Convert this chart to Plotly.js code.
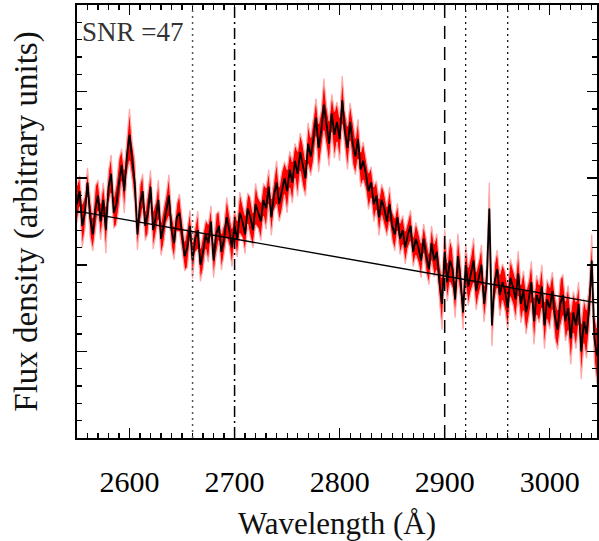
<!DOCTYPE html>
<html>
<head>
<meta charset="utf-8">
<script src="https://cdn.plot.ly/plotly-3.0.1.min.js"></script>
<style>html,body{margin:0;padding:0;background:#fff;}#chart{width:599px;height:541px;}</style>
</head>
<body>
<div id="chart"></div>
<script>
// Wavelength grid (Å)
const wavelength = [
2550,2552.5,2555,2557.5,2560,2562.5,2565,2567.5,2570,2572.5,
2575,2577.5,2580,2582.5,2585,2587.5,2590,2592.5,2595,2597.5,
2600,2602.5,2605,2607.5,2610,2612.5,2615,2617.5,2620,2622.5,
2625,2627.5,2630,2632.5,2635,2637.5,2640,2642.5,2645,2647.5,
2650,2652.5,2655,2657.5,2660,2662.5,2665,2667.5,2670,2672.5,
2675,2677.5,2680,2682.5,2685,2687.5,2690,2692.5,2695,2697.5,
2700,2702.5,2705,2707.5,2710,2712.5,2715,2717.5,2720,2722.5,
2725,2727.5,2730,2732.5,2735,2737.5,2740,2742.5,2745,2747.5,
2750,2752.5,2755,2757.5,2760,2762.5,2765,2767.5,2770,2772.5,
2775,2777.5,2780,2782.5,2785,2787.5,2790,2792.5,2795,2797.5,
2800,2802.5,2805,2807.5,2810,2812.5,2815,2817.5,2820,2822.5,
2825,2827.5,2830,2832.5,2835,2837.5,2840,2842.5,2845,2847.5,
2850,2852.5,2855,2857.5,2860,2862.5,2865,2867.5,2870,2872.5,
2875,2877.5,2880,2882.5,2885,2887.5,2890,2892.5,2895,2897.5,
2900,2902.5,2905,2907.5,2910,2912.5,2915,2917.5,2920,2922.5,
2925,2927.5,2930,2932.5,2935,2937.5,2940,2942.5,2945,2947.5,
2950,2952.5,2955,2957.5,2960,2962.5,2965,2967.5,2970,2972.5,
2975,2977.5,2980,2982.5,2985,2987.5,2990,2992.5,2995,2997.5,
3000,3002.5,3005,3007.5,3010,3012.5,3015,3017.5,3020,3022.5,
3025,3027.5,3030,3032.5,3035,3037.5,3040,3042.5,3045
];
// Flux density (arbitrary units)
const flux = [
2.70,2.85,2.45,2.60,2.95,2.55,2.35,2.65,2.80,2.50,
2.75,2.40,2.90,3.05,2.60,2.70,2.95,3.15,2.85,3.25,
3.50,3.20,2.95,2.35,2.70,2.85,2.45,2.60,2.90,2.40,
2.55,2.75,2.30,2.45,2.65,2.80,2.40,2.25,2.55,2.60,
2.35,2.10,2.20,2.45,2.05,2.30,2.40,2.00,2.15,2.35,
2.25,2.50,2.05,2.35,2.45,2.15,2.30,2.55,2.40,2.20,
2.45,2.30,2.60,2.50,2.35,2.65,2.55,2.40,2.70,2.60,
2.50,2.75,2.65,2.90,2.55,2.80,2.95,2.70,2.85,3.00,
2.85,3.10,2.95,3.20,3.05,3.30,3.15,3.00,3.40,3.25,
3.45,3.70,3.35,3.55,3.85,3.60,3.40,3.75,3.50,3.65,
3.45,3.90,3.55,3.35,3.65,3.40,3.25,3.45,3.10,3.20,
3.05,2.85,2.95,2.70,2.80,2.55,2.75,2.65,2.50,2.70,
2.45,2.35,2.55,2.30,2.40,2.20,2.35,2.45,2.15,2.30,
2.20,2.05,2.30,2.10,1.95,2.25,2.05,2.15,1.80,1.55,
2.15,1.80,2.05,1.95,1.60,2.10,1.85,1.45,2.00,1.75,
1.90,2.05,1.70,1.85,2.00,1.55,1.80,2.65,1.30,1.80,
1.95,1.65,1.80,1.70,1.50,1.85,1.75,1.60,1.90,1.55,
1.70,1.45,1.60,1.80,1.35,1.65,1.55,1.75,1.30,1.60,
1.50,1.70,1.40,1.25,1.55,1.65,1.35,1.50,1.15,1.45,
1.30,1.55,1.00,1.35,1.20,1.50,2.05,1.15,0.95
];
// 1-sigma flux error
const fluxErr = [
0.22,0.18,0.25,0.20,0.17,0.23,0.19,0.26,0.18,0.21,
0.20,0.27,0.19,0.22,0.18,0.24,0.28,0.19,0.25,0.21,
0.30,0.22,0.26,0.18,0.23,0.20,0.17,0.24,0.19,0.22,
0.18,0.23,0.19,0.21,0.17,0.24,0.20,0.19,0.16,0.22,
0.19,0.17,0.23,0.18,0.21,0.16,0.22,0.19,0.20,0.17,
0.22,0.18,0.20,0.24,0.17,0.21,0.18,0.23,0.19,0.22,
0.18,0.21,0.24,0.19,0.22,0.18,0.23,0.20,0.24,0.18,
0.22,0.19,0.24,0.20,0.21,0.18,0.25,0.20,0.23,0.19,
0.25,0.21,0.24,0.20,0.26,0.22,0.25,0.21,0.24,0.22,
0.26,0.22,0.28,0.23,0.30,0.24,0.26,0.22,0.27,0.23,
0.25,0.28,0.23,0.25,0.22,0.24,0.21,0.23,0.20,0.22,
0.19,0.21,0.18,0.20,0.17,0.21,0.18,0.19,0.17,0.20,
0.17,0.19,0.16,0.18,0.17,0.19,0.16,0.18,0.17,0.19,
0.18,0.20,0.17,0.19,0.18,0.20,0.19,0.21,0.24,0.30,
0.26,0.22,0.25,0.23,0.21,0.26,0.22,0.20,0.24,0.22,
0.21,0.26,0.22,0.20,0.23,0.21,0.20,0.30,0.24,0.21,
0.22,0.24,0.21,0.23,0.25,0.22,0.21,0.24,0.26,0.22,
0.23,0.25,0.22,0.24,0.27,0.23,0.22,0.25,0.27,0.23,
0.24,0.22,0.25,0.23,0.28,0.24,0.23,0.26,0.30,0.24,
0.27,0.25,0.32,0.26,0.28,0.25,0.30,0.27,0.32
];
// Power-law continuum fit (end points)
const contWave = [2550, 3045];
const contFlux = [2.62, 1.56];
// Marked wavelengths
const dottedGray = [2660];
const dashDot = [2700];
const dashed = [2900];
const dottedBlack = [2920, 2960];
const snrLabel = "SNR =47";

const lower = flux.map((f, i) => f - fluxErr[i]);
const upper = flux.map((f, i) => f + fluxErr[i]);

const traces = [
  {x: wavelength, y: lower, mode: 'lines', line: {color: 'rgb(255,170,170)', width: 1.2}, hoverinfo: 'skip', showlegend: false},
  {x: wavelength, y: upper, mode: 'lines', fill: 'tonexty', fillcolor: 'rgb(255,0,0)', line: {color: 'rgb(255,170,170)', width: 1.2}, hoverinfo: 'skip', showlegend: false},
  {x: wavelength, y: flux, mode: 'lines', line: {color: 'black', width: 1.8}, showlegend: false},
  {x: contWave, y: contFlux, mode: 'lines', line: {color: 'black', width: 1.4}, showlegend: false}
];

const shapes = [];
function vline(x, color, dash, width) {
  shapes.push({type: 'line', xref: 'x', yref: 'paper', x0: x, x1: x, y0: 0, y1: 1, layer: 'above', line: {color: color, dash: dash, width: width}});
}
dottedGray.forEach(x => vline(x, '#555', '2px,4px', 1.5));
dashDot.forEach(x => vline(x, 'black', '11px,4px,2px,4px', 1.5));
dashed.forEach(x => vline(x, 'black', '13px,8px', 1.5));
dottedBlack.forEach(x => vline(x, 'black', '2px,4px', 1.2));

const font = 'Liberation Serif, Times New Roman, serif';
const layout = {
  width: 599, height: 541,
  margin: {l: 77, r: 2, t: 5, b: 103},
  paper_bgcolor: 'white', plot_bgcolor: 'white',
  font: {family: font, color: 'black'},
  showlegend: false,
  xaxis: {
    range: [2550, 3045], dtick: 100, tick0: 2600,
    ticks: 'inside', ticklen: 10, tickwidth: 1.5, tickcolor: 'black',
    minor: {dtick: 10, ticks: 'inside', ticklen: 5, tickwidth: 1.2, tickcolor: 'black'},
    showline: true, linecolor: 'black', linewidth: 2, mirror: 'ticks',
    showgrid: false, zeroline: false,
    tickfont: {family: font, size: 30, color: 'black'},
    ticklabelstandoff: 16,
    title: {text: 'Wavelength (Å)', font: {family: font, size: 31, color: '#111'}, standoff: 18}
  },
  yaxis: {
    range: [0, 5], dtick: 1, tick0: 0,
    ticks: 'inside', ticklen: 10, tickwidth: 1.5, tickcolor: 'black',
    minor: {dtick: 0.2, ticks: 'inside', ticklen: 5, tickwidth: 1.2, tickcolor: 'black'},
    showline: true, linecolor: 'black', linewidth: 2, mirror: 'ticks',
    showgrid: false, zeroline: false, showticklabels: false,
    title: {text: 'Flux density (arbitrary units)', font: {family: font, size: 33, color: '#111'}, standoff: 27}
  },
  shapes: shapes,
  annotations: [{
    xref: 'paper', yref: 'paper', x: 0.006, y: 0.976, xanchor: 'left', yanchor: 'top',
    text: snrLabel, showarrow: false, font: {family: font, size: 27, color: '#333'}
  }]
};

Plotly.newPlot('chart', traces, layout, {staticPlot: true, displayModeBar: false});
</script>
</body>
</html>
